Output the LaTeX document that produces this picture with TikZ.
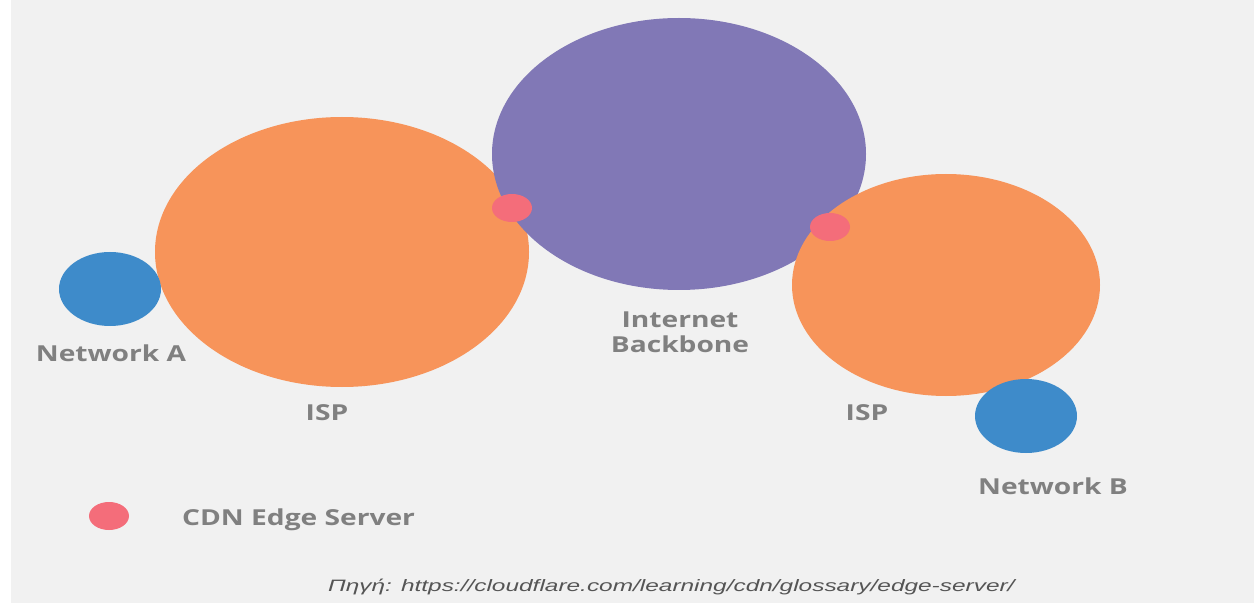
\documentclass[tikz,border=0pt]{standalone}
\usepackage{fontspec}
\usepackage{graphicx}
\newfontfamily\labelfont{Open Sans}
\newfontfamily\notefont{Liberation Sans}
\definecolor{bgray}{HTML}{F1F1F1}
\definecolor{ispor}{HTML}{F7945A}
\definecolor{bbone}{HTML}{8178B6}
\definecolor{netblue}{HTML}{3E8BCA}
\definecolor{edgepink}{HTML}{F46D7A}
\definecolor{lblgray}{HTML}{808080}
\definecolor{notegray}{HTML}{555555}
\newcommand{\wide}[1]{\scalebox{1.28}[1]{#1}}
\tikzset{
  lbl/.style={text=lblgray, font=\labelfont\bfseries\fontsize{22bp}{25bp}\selectfont, inner sep=0pt, align=center},
}
\begin{document}
\begin{tikzpicture}[x=1bp, y=-1bp]
  \useasboundingbox (0,0) rectangle (1254,603);
  % backdrop
  \fill[white] (0,0) rectangle (1254,603);
  \fill[bgray] (11,0) rectangle (1254,603);
  % ISP / backbone bubbles (drawn back to front)
  \fill[ispor] (342,252) ellipse [x radius=187, y radius=135];
  \fill[bbone] (679,154) ellipse [x radius=187, y radius=136];
  \fill[ispor] (946,285) ellipse [x radius=154, y radius=111];
  % end networks
  \fill[netblue] (110,289) ellipse [x radius=51, y radius=37];
  \fill[netblue] (1026,416) ellipse [x radius=51, y radius=37];
  % edge servers
  \fill[edgepink] (512,208) ellipse [x radius=20, y radius=14];
  \fill[edgepink] (830,227) ellipse [x radius=20, y radius=14];
  \fill[edgepink] (109,516) ellipse [x radius=20, y radius=14];
  % labels
  \node[lbl] (neta) at (111,353) {\wide{Network A}};
  \node[lbl] (ispa) at (327,413) {\wide{ISP}};
  \node[lbl] (ispb) at (867,413) {\wide{ISP}};
  \node[lbl] (netb) at (1053,486) {\wide{Network B}};
  \node[lbl] (inet) at (680,320) {\wide{Internet}};
  \node[lbl] (bbn) at (680,344) {\wide{Backbone}};
  \node[lbl, anchor=west] (cdn) at (182,520) {\wide{CDN Edge Server}};
  \node[text=notegray, inner sep=0pt, anchor=west, font=\notefont\itshape\fontsize{16.5bp}{18bp}\selectfont] (src) at (328,587)
    {\scalebox{1.48}[1]{Πηγή: https://cloudflare.com/learning/cdn/glossary/edge-server/}};
\end{tikzpicture}
\end{document}
